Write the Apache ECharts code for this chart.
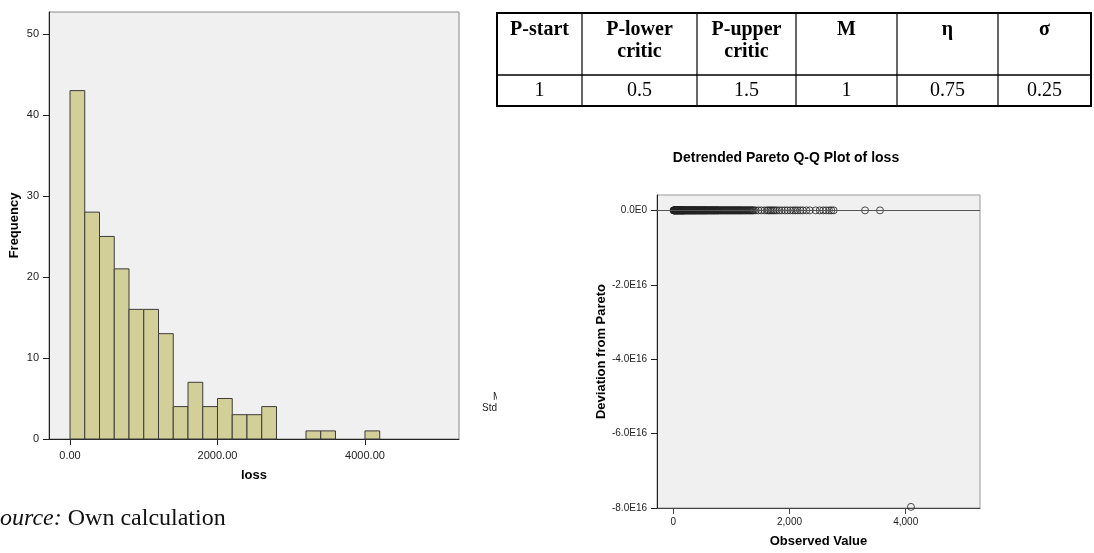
<!DOCTYPE html>
<html><head><meta charset="utf-8">
<script src="https://cdn.jsdelivr.net/npm/echarts@6/dist/echarts.min.js"></script>
<style>html,body{margin:0;padding:0;background:#fff}#c{width:1094px;height:553px}</style>
</head><body><div id="c"></div>
<script>
// ---- Histogram of loss ----
const histBinWidth = 200;
const histBinStarts = [0,200,400,600,800,1000,1200,1400,1600,1800,2000,2200,2400,2600,2800,3000,3200,3400,3600,3800,4000];
const histCounts    = [43,28,25,21,16,16,13,4,7,4,5,3,3,4,0,0,1,1,0,0,1];
const histXTicks = [0,2000,4000];
const histYTicks = [0,10,20,30,40,50];

// ---- Detrended Pareto Q-Q plot ----
const qqObserved = [
  4,9,13,18,22,27,31,36,41,45,49,54,58,63,68,72,77,81,86,90,95,99,104,109,113,118,122,127,131,136,141,145,150,154,159,163,168,173,177,182,186,191,196,
  205,212,219,226,233,240,247,254,261,268,275,282,289,296,303,310,317,324,331,338,345,352,359,366,373,380,387,394,
  404,412,419,427,435,443,451,458,466,474,482,489,497,505,513,521,528,536,544,552,560,567,575,583,592,
  606,615,624,633,643,652,661,670,680,689,698,707,717,726,735,745,754,763,772,782,793,
  808,820,832,845,857,869,882,894,906,919,931,943,956,968,980,993,
  1007,1019,1031,1044,1056,1069,1081,1094,1106,1118,1131,1143,1156,1168,1181,1193,
  1210,1224,1239,1253,1268,1283,1297,1312,1326,1341,1356,1370,1388,
  1420,1465,1515,1570,
  1612,1640,1668,1695,1722,1750,1782,
  1825,1870,1920,1965,
  2015,2060,2100,2140,2185,
  2230,2290,2350,
  2450,2520,2580,
  2630,2680,2720,2760,
  3300,3557
];
const qqOutlier = [[4090, -7.97e16]];
const qqXTicks = [0,2000,4000];
const qqXTickLabels = ['0','2,000','4,000'];
const qqYTicks = [0,-2e16,-4e16,-6e16,-8e16];
const qqYTickLabels = ['0.0E0','-2.0E16','-4.0E16','-6.0E16','-8.0E16'];

// ---- Parameter table ----
const tableHeaders = ['P-start','P-lower\ncritic','P-upper\ncritic','M','η','σ'];
const tableValues  = ['1','0.5','1.5','1','0.75','0.25'];

const SANS = '"Liberation Sans", Arial, sans-serif';
const SERIF = '"Liberation Serif", "Times New Roman", serif';

const chart = echarts.init(document.getElementById('c'), null, {renderer:'canvas'});

// table graphics
const colEdges = [497, 582, 697, 796, 897, 998, 1091];
const tableTop = 13, tableMid = 75, tableBot = 106;
const g = [];
g.push({type:'line', shape:{x1:496, y1:tableTop, x2:1092, y2:tableTop}, style:{stroke:'#000', lineWidth:2}});
g.push({type:'line', shape:{x1:496, y1:tableMid, x2:1092, y2:tableMid}, style:{stroke:'#000', lineWidth:1.5}});
g.push({type:'line', shape:{x1:496, y1:tableBot, x2:1092, y2:tableBot}, style:{stroke:'#000', lineWidth:2}});
colEdges.forEach((x,i)=>{
  const outer = (i===0 || i===colEdges.length-1);
  g.push({type:'line', shape:{x1:x, y1:tableTop, x2:x, y2:tableBot}, style:{stroke:'#000', lineWidth: outer?2:1.2}});
});
tableHeaders.forEach((h,i)=>{
  const cx = (colEdges[i]+colEdges[i+1])/2;
  g.push({type:'text', x:cx, y:19, style:{text:h, fontFamily:SERIF, fontWeight:'bold', fontSize:20, lineHeight:22, align:'center', verticalAlign:'top', fill:'#000'}});
  g.push({type:'text', x:cx, y:91, style:{text:tableValues[i], fontFamily:SERIF, fontSize:20, align:'center', verticalAlign:'middle', fill:'#000'}});
});
// Q-Q title
g.push({type:'text', x:786, y:158, style:{text:'Detrended Pareto Q-Q Plot of loss', fontFamily:SANS, fontWeight:'bold', fontSize:14, align:'center', verticalAlign:'middle', fill:'#000'}});
// fragment of histogram statistics box (cut off)
g.push({type:'text', x:493, y:397, style:{text:'M', fontFamily:SANS, fontSize:10, align:'left', verticalAlign:'middle', fill:'#222'}});
g.push({type:'text', x:497, y:408, style:{text:'Std', fontFamily:SANS, fontSize:10, align:'right', verticalAlign:'middle', fill:'#222'}});
g.push({type:'rect', shape:{x:497, y:388, width:14, height:30}, style:{fill:'#fff'}, z:100});
// source line
g.push({type:'text', x:-12, y:519, style:{text:'{i|Source:} Own calculation', fontFamily:SERIF, fontSize:24, verticalAlign:'middle', fill:'#111', rich:{i:{fontStyle:'italic', fontFamily:SERIF, fontSize:24}}}});

const axisLabelBase = {fontFamily:SANS, color:'#222'};

chart.setOption({
  animation:false,
  backgroundColor:'#fff',
  grid:[
    {left:49, top:12, width:410, height:427, show:true, backgroundColor:'#f0f0f0', borderColor:'#888', borderWidth:1},
    {left:657, top:195, width:323, height:318, show:true, backgroundColor:'#f0f0f0', borderColor:'#999', borderWidth:1}
  ],
  xAxis:[
    {type:'value', gridIndex:0, min:-285, max:5275,
     axisLine:{show:true, onZero:false, lineStyle:{color:'#222', width:1}},
     axisTick:{show:true, customValues:histXTicks, length:6, lineStyle:{color:'#222'}},
     axisLabel:{...axisLabelBase, customValues:histXTicks, fontSize:11, margin:11, formatter:v=>Number(v).toFixed(2)},
     splitLine:{show:false},
     name:'loss', nameLocation:'middle', nameGap:30, nameTextStyle:{fontFamily:SANS, fontWeight:'bold', fontSize:13, color:'#000'}},
    {type:'value', gridIndex:1, min:-280, max:5278,
     axisLine:{show:true, onZero:false, lineStyle:{color:'#444', width:1}},
     axisTick:{show:true, customValues:qqXTicks, length:6, lineStyle:{color:'#444'}},
     axisLabel:{...axisLabelBase, customValues:qqXTicks, fontSize:10, margin:9, formatter:v=>qqXTickLabels[qqXTicks.indexOf(Number(v))] ?? ''},
     splitLine:{show:false},
     name:'Observed Value', nameLocation:'middle', nameGap:27, nameTextStyle:{fontFamily:SANS, fontWeight:'bold', fontSize:13, color:'#000'}}
  ],
  yAxis:[
    {type:'value', gridIndex:0, min:0, max:52.7,
     axisLine:{show:true, onZero:false, lineStyle:{color:'#222', width:1}},
     axisTick:{show:true, customValues:histYTicks, length:6, lineStyle:{color:'#222'}},
     axisLabel:{...axisLabelBase, customValues:histYTicks, fontSize:11, margin:10},
     splitLine:{show:false},
     name:'Frequency', nameLocation:'middle', nameRotate:90, nameGap:28, nameTextStyle:{fontFamily:SANS, fontWeight:'bold', fontSize:13, color:'#000'}},
    {type:'value', gridIndex:1, min:-8e16, max:0.413e16,
     axisLine:{show:true, onZero:false, lineStyle:{color:'#222', width:1}},
     axisTick:{show:true, customValues:qqYTicks, length:6, lineStyle:{color:'#222'}},
     axisLabel:{...axisLabelBase, customValues:qqYTicks, fontSize:10, margin:10, formatter:v=>qqYTickLabels[qqYTicks.indexOf(Number(v))] ?? ''},
     splitLine:{show:false},
     name:'Deviation from Pareto', nameLocation:'middle', nameRotate:90, nameGap:48, nameTextStyle:{fontFamily:SANS, fontWeight:'bold', fontSize:13, color:'#000'}}
  ],
  series:[
    {type:'custom', xAxisIndex:0, yAxisIndex:0,
     data: histBinStarts.map((s,i)=>[s, histCounts[i]]).filter(d=>d[1]>0),
     encode:{x:0, y:1},
     renderItem:(params, api)=>{
       const s = api.value(0), c = api.value(1);
       const p0 = api.coord([s, c]);
       const p1 = api.coord([s + histBinWidth, 0]);
       return {type:'rect', shape:{x:p0[0], y:p0[1], width:p1[0]-p0[0], height:p1[1]-p0[1]},
               style:{fill:'#d3cf98', stroke:'#3c3c3c', lineWidth:1}};
     }},
    {type:'scatter', xAxisIndex:1, yAxisIndex:1, symbol:'circle', symbolSize:7,
     data: qqObserved.map(v=>[v,0]),
     itemStyle:{color:'rgba(0,0,0,0)', borderColor:'#222', borderWidth:1},
     markLine:{silent:true, symbol:'none', label:{show:false}, lineStyle:{color:'#555', width:1, type:'solid'}, data:[{yAxis:0}]},
     z:3},
    {type:'scatter', xAxisIndex:1, yAxisIndex:1, symbol:'circle', symbolSize:7, clip:false,
     data: qqOutlier,
     itemStyle:{color:'rgba(0,0,0,0)', borderColor:'#222', borderWidth:1}, z:3}
  ],
  graphic: g
});
</script></body></html>
